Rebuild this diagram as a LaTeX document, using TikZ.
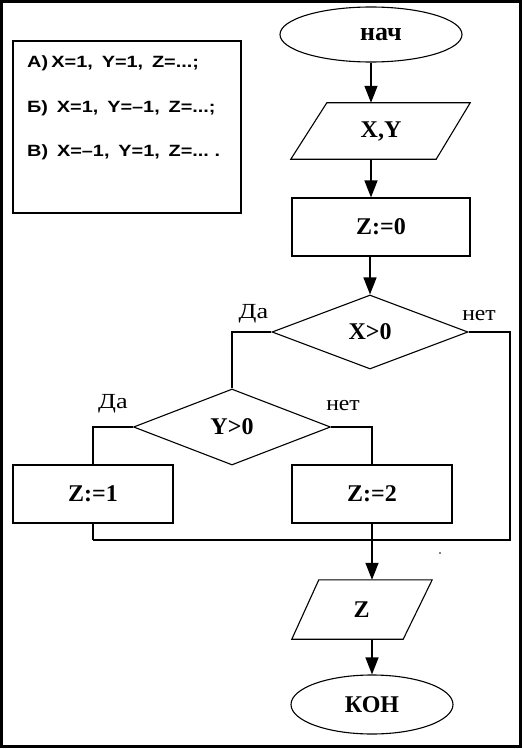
\documentclass[tikz,border=0pt]{standalone}
\usepackage{fontspec}
\setmainfont{Liberation Serif}
\newfontfamily\arialfont{Liberation Sans}
\usetikzlibrary{shapes.geometric,arrows.meta,calc}
\newcommand{\wide}[1]{\scalebox{1.22}[1]{#1}}
\newcommand{\halfwide}[1]{\scalebox{1.1}[1]{#1}}
\begin{document}
\begin{tikzpicture}[x=1pt,y=-1pt]
\useasboundingbox (0,0) rectangle (523,749);
\tikzset{
  flow/.style={line width=1.1pt},
  arr/.style={line width=1.4pt,-{Triangle[length=17pt,width=13pt]}},
  lbl/.style={font=\fontsize{24}{24}\selectfont\bfseries},
  term/.style={ellipse, draw, flow, lbl, inner sep=0pt},
  proc/.style={rectangle, draw, flow, lbl, inner sep=0pt},
  dec/.style={diamond, draw, flow, lbl, inner sep=0pt},
  io/.style={rectangle, lbl, inner sep=0pt},
  yn/.style={font=\fontsize{21.5}{21.5}\selectfont, inner sep=0pt},
  info/.style={anchor=west, inner sep=0pt, font=\arialfont\fontsize{16.3}{16.3}\selectfont\bfseries},
  frame/.style={line width=3pt},
  infobox/.style={line width=2pt}
}
% outer frame
\draw[frame] (1.5,1.5) rectangle (520.5,746.5);
% info box
\node[draw, infobox, minimum width=228pt, minimum height=172pt, inner sep=0pt] (box) at (127,127) {};
\node[info] (ta) at (27,63) {\wide{А)\,X=1,\ \,Y=1,\ \,Z=...;}};
\node[info] (tb) at (27,108) {\wide{Б)\ \,X=1,\ \,Y=–1,\ \,Z=...;}};
\node[info] (tc) at (27,152) {\wide{В)\ \,X=–1,\ \,Y=1,\ \,Z=...\ .}};

% flowchart nodes
\node[term, minimum width=182pt, minimum height=55pt] (nach) at (371,34.5) {\hspace*{20pt}\fontsize{26}{26}\selectfont нач};
\node[io, minimum width=144pt, minimum height=56pt] (xy) at (381,131) {X,Y};
\draw[flow] ($(xy.north west)+(18,0)$) -- ($(xy.north east)+(17,0)$)
  -- ($(xy.south east)+(-17,0)$) -- ($(xy.south west)+(-18,0)$) -- cycle;
\node[proc, minimum width=178pt, minimum height=58pt] (z0) at (381,227) {Z:=0};
\node[dec, minimum width=196pt, minimum height=74pt] (d1) at (370,332) {X>0};
\node[dec, minimum width=197pt, minimum height=76pt] (d2) at (232,427) {Y>0};
\node[proc, minimum width=160pt, minimum height=58pt] (z1) at (93,494) {Z:=1};
\node[proc, minimum width=160pt, minimum height=58pt] (z2) at (372,494) {Z:=2};
\node[io, minimum width=112pt, minimum height=59pt] (zo) at (361.5,609.5) {Z};
\draw[flow] ($(zo.north west)+(13.5,0)$) -- ($(zo.north east)+(14.5,0)$)
  -- ($(zo.south east)+(-14.5,0)$) -- ($(zo.south west)+(-13.5,0)$) -- cycle;
\node[term, minimum width=162pt, minimum height=59pt] (kon) at (372,704.5) {КОН};

% labels
\node[yn] (da1) at (253.5,314) {\wide{Да}};
\node[yn] (net1) at (479,316) {\halfwide{нет}};
\node[yn] (da2) at (113,404) {\wide{Да}};
\node[yn] (net2) at (343,406) {\halfwide{нет}};

% junction coordinates
\coordinate (j1) at (232,332);
\coordinate (j2) at (510,332);
\coordinate (j3) at (510,540);
\coordinate (j4) at (93,540);
\coordinate (j5) at (93,427);
\coordinate (j6) at (372,427);

% connectors
\draw[arr] (nach.south) -- (nach.south |- xy.north);
\draw[arr] (xy.south -| nach.south) -- (nach.south |- z0.north);
\draw[arr] (z0.south -| d1.north) -- (d1.north);
\draw[flow] (d1.west) -- (j1) -- (d2.north);
\draw[flow] (d1.east) -- (j2) -- (j3) -- (j4);
\draw[flow] (d2.west) -- (j5) -- (z1.north);
\draw[flow] (z1.south) -- (j4);
\draw[flow] (d2.east) -- (j6) -- (z2.north);
\draw[arr] (z2.south) -- (z2.south |- zo.north);
\draw[arr] (zo.south -| kon.north) -- (kon.north);
\fill (440,553) circle (0.8pt);
\end{tikzpicture}
\end{document}
